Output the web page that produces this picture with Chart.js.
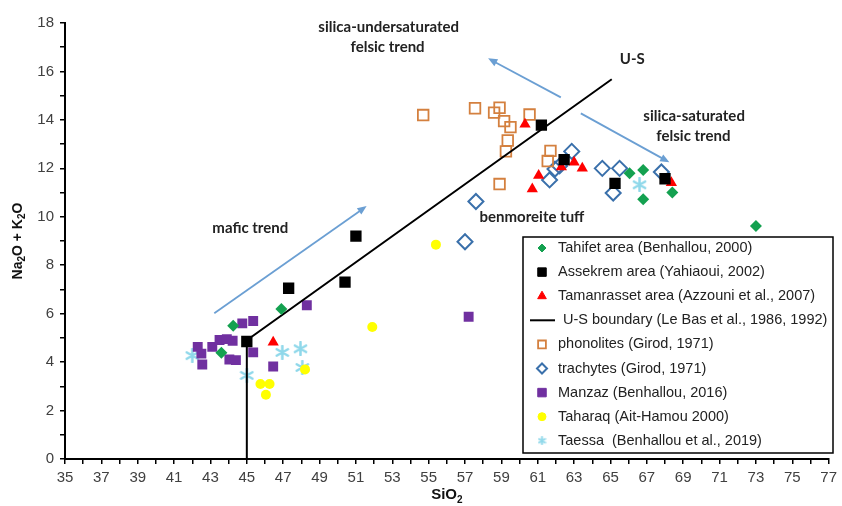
<!DOCTYPE html>
<html>
<head>
<meta charset="utf-8">
<script src="https://cdn.jsdelivr.net/npm/chart.js@4.4.1/dist/chart.umd.min.js"></script>
<style>
  html, body { margin: 0; padding: 0; background: #fff; }
</style>
</head>
<body>
<canvas id="tasChart" width="842" height="506"></canvas>
<script>
// SiO2 (x) and Na2O + K2O (y), wt%
var tahifetSi  = [46.9, 44.25, 43.6, 66.05, 66.8, 66.8, 68.4, 73.0];
var tahifetAlk = [6.19, 5.5, 4.39, 11.8, 11.93, 10.72, 11.0, 9.62];

var assekremSi  = [45.0, 47.3, 50.4, 51.0, 61.2, 62.45, 65.25, 68.0];
var assekremAlk = [4.85, 7.05, 7.3, 9.2, 13.78, 12.36, 11.38, 11.57];

var tamanSi  = [46.45, 60.3, 60.7, 61.05, 62.3, 63.0, 63.45, 68.35];
var tamanAlk = [4.82, 13.82, 11.15, 11.7, 12.05, 12.25, 12.0, 11.4];

var usSi  = [45, 45, 65.07];
var usAlk = [0, 4.9, 15.68];

var phonoSi  = [54.7, 57.55, 58.6, 58.9, 59.15, 59.5, 60.55, 59.35, 59.25, 61.7, 61.55, 58.9];
var phonoAlk = [14.2, 14.48, 14.3, 14.5, 13.95, 13.7, 14.22, 13.15, 12.7, 12.72, 12.3, 11.35];

var trachySi  = [57.0, 57.6, 61.65, 61.95, 62.2, 62.87, 64.55, 65.5, 65.15, 67.8];
var trachyAlk = [8.97, 10.63, 11.52, 11.97, 12.1, 12.7, 12.0, 12.0, 10.98, 11.85];

var manzazSi  = [42.3, 42.5, 42.55, 43.1, 43.5, 43.9, 44.22, 44.04, 44.4, 44.75, 45.35, 45.35, 46.45, 48.3, 57.2];
var manzazAlk = [4.63, 4.35, 3.9, 4.63, 4.91, 4.95, 4.88, 4.11, 4.08, 5.6, 5.7, 4.4, 3.82, 6.35, 5.87];

var taharaqSi  = [45.75, 46.25, 46.05, 48.2, 51.9, 55.4];
var taharaqAlk = [3.1, 3.1, 2.65, 3.7, 5.45, 8.85];

var taessaSi  = [42.0, 45.0, 46.95, 47.95, 48.05, 66.6];
var taessaAlk = [4.27, 3.45, 4.4, 4.55, 3.78, 11.32];

var xTicks = [35, 37, 39, 41, 43, 45, 47, 49, 51, 53, 55, 57, 59, 61, 63, 65, 67, 69, 71, 73, 75, 77];
var yTicks = [0, 2, 4, 6, 8, 10, 12, 14, 16, 18];

function pts(xs, ys) {
  return xs.map(function (x, i) { return { x: x, y: ys[i] }; });
}

// asterisk marker (X with a vertical bar), like the Excel one
function asterisk(size, lw) {
  var c = document.createElement('canvas');
  c.width = size; c.height = size;
  var g = c.getContext('2d');
  var m = size / 2, r = size / 2 - 1;
  g.strokeStyle = '#8fd8ea';
  g.lineWidth = lw;
  g.lineCap = 'round';
  g.beginPath();
  g.moveTo(m, m - r); g.lineTo(m, m + r);
  g.moveTo(m - r * 0.87, m - r * 0.5); g.lineTo(m + r * 0.87, m + r * 0.5);
  g.moveTo(m - r * 0.87, m + r * 0.5); g.lineTo(m + r * 0.87, m - r * 0.5);
  g.stroke();
  return c;
}

var arrows = [
  [43.21, 6.02, 51.59, 10.44],
  [62.27, 14.93, 58.27, 16.54],
  [63.37, 14.27, 68.24, 12.25]
];
var notes = [
  ['silica-undersaturated', 52.8, 17.82],
  ['felsic trend', 52.74, 17.0],
  ['U-S', 66.2, 16.5],
  ['silica-saturated', 69.6, 14.15],
  ['felsic trend', 69.56, 13.33],
  ['mafic trend', 45.19, 9.53],
  ['benmoreite tuff', 60.68, 9.98]
];

// text with subscript parts, centred on (cx, cy)
function subText(ctx, parts, cx, cy, size) {
  var big = 'bold ' + size + 'px "Liberation Sans", Arial, sans-serif';
  var small = 'bold ' + Math.round(size * 0.68) + 'px "Liberation Sans", Arial, sans-serif';
  var w = 0;
  parts.forEach(function (p) { ctx.font = p[1] ? small : big; w += ctx.measureText(p[0]).width; });
  var x = cx - w / 2;
  ctx.textAlign = 'left';
  ctx.textBaseline = 'middle';
  parts.forEach(function (p) {
    ctx.font = p[1] ? small : big;
    ctx.fillText(p[0], x, p[1] ? cy + size * 0.32 : cy);
    x += ctx.measureText(p[0]).width;
  });
}

var notesPlugin = {
  id: 'notes',
  afterDatasetsDraw: function (chart) {
    var ctx = chart.ctx, xs = chart.scales.x, ys = chart.scales.y;
    ctx.save();
    ctx.strokeStyle = '#6b9fd3';
    ctx.fillStyle = '#6b9fd3';
    ctx.lineWidth = 1.8;
    arrows.forEach(function (a) {
      var x1 = xs.getPixelForValue(a[0]), y1 = ys.getPixelForValue(a[1]);
      var x2 = xs.getPixelForValue(a[2]), y2 = ys.getPixelForValue(a[3]);
      var ang = Math.atan2(y2 - y1, x2 - x1);
      ctx.beginPath();
      ctx.moveTo(x1, y1);
      ctx.lineTo(x2 - 7 * Math.cos(ang), y2 - 7 * Math.sin(ang));
      ctx.stroke();
      ctx.beginPath();
      ctx.moveTo(x2, y2);
      ctx.lineTo(x2 - 10 * Math.cos(ang - 0.4), y2 - 10 * Math.sin(ang - 0.4));
      ctx.lineTo(x2 - 10 * Math.cos(ang + 0.4), y2 - 10 * Math.sin(ang + 0.4));
      ctx.closePath();
      ctx.fill();
    });
    ctx.fillStyle = '#222';
    ctx.font = 'bold 15px Lato, "Open Sans", sans-serif';
    ctx.textAlign = 'center';
    ctx.textBaseline = 'middle';
    notes.forEach(function (n) {
      ctx.fillText(n[0], xs.getPixelForValue(n[1]), ys.getPixelForValue(n[2]));
    });

    // axis titles
    ctx.fillStyle = '#111';
    subText(ctx, [['SiO', 0], ['2', 1]], (chart.chartArea.left + chart.chartArea.right) / 2, 495, 15);
    ctx.save();
    ctx.translate(18, (chart.chartArea.top + chart.chartArea.bottom) / 2);
    ctx.rotate(-Math.PI / 2);
    subText(ctx, [['Na', 0], ['2', 1], ['O + K', 0], ['2', 1], ['O', 0]], 0, 0, 14);
    ctx.restore();
    ctx.restore();
  }
};

var legendPlugin = {
  id: 'boxLegend',
  afterDraw: function (chart) {
    var ctx = chart.ctx;
    var L = 523, T = 237, R = 833, B = 453;
    ctx.save();
    ctx.fillStyle = '#fff';
    ctx.fillRect(L, T, R - L, B - T);
    ctx.strokeStyle = '#000';
    ctx.lineWidth = 1.5;
    ctx.strokeRect(L, T, R - L, B - T);
    ctx.font = '14.5px "Liberation Sans", Arial, sans-serif';
    ctx.textBaseline = 'middle';
    ctx.textAlign = 'left';
    chart.data.datasets.forEach(function (ds, i) {
      var y = 248 + i * 24.1;
      if (ds.showLine) {
        ctx.strokeStyle = ds.borderColor;
        ctx.lineWidth = 2;
        ctx.beginPath();
        ctx.moveTo(530, y); ctx.lineTo(555, y);
        ctx.stroke();
        ctx.fillStyle = '#222';
        ctx.fillText(ds.label, 563, y);
        return;
      }
      ctx.fillStyle = ds.backgroundColor;
      ctx.strokeStyle = ds.borderColor;
      ctx.lineWidth = ds.pointBorderWidth || 1;
      Chart.helpers.drawPoint(ctx, {
        pointStyle: ds.legendStyle || ds.pointStyle,
        radius: ds.legendRadius,
        rotation: 0,
        borderWidth: ds.pointBorderWidth || 1
      }, 542, y);
      ctx.fillStyle = '#222';
      ctx.fillText(ds.label, 558, y);
    });
    ctx.restore();
  }
};

var tickFont = { family: '"Liberation Sans", Arial, sans-serif', size: 15 };

new Chart(document.getElementById('tasChart'), {
  type: 'scatter',
  data: {
    datasets: [
      { label: 'Tahifet area (Benhallou, 2000)', data: pts(tahifetSi, tahifetAlk),
        pointStyle: 'rectRot', pointRadius: 6, backgroundColor: '#14a150', borderColor: '#14a150',
        pointBorderWidth: 0, legendRadius: 4 },
      { label: 'Assekrem area (Yahiaoui, 2002)', data: pts(assekremSi, assekremAlk),
        pointStyle: 'rect', pointRadius: 8, backgroundColor: '#000', borderColor: '#000',
        pointBorderWidth: 0, legendRadius: 6 },
      { label: 'Tamanrasset area (Azzouni et al., 2007)', data: pts(tamanSi, tamanAlk),
        pointStyle: 'triangle', pointRadius: 6.5, backgroundColor: '#f00', borderColor: '#f00',
        pointBorderWidth: 0, legendRadius: 5 },
      { label: 'U-S boundary (Le Bas et al., 1986, 1992)', data: pts(usSi, usAlk),
        showLine: true, pointRadius: 0, borderColor: '#000', backgroundColor: '#000',
        borderWidth: 2, fill: false },
      { label: 'phonolites (Girod, 1971)', data: pts(phonoSi, phonoAlk),
        pointStyle: 'rect', pointRadius: 7.5, backgroundColor: 'rgba(0,0,0,0)', borderColor: '#d4803f',
        pointBorderWidth: 1.8, legendRadius: 5.5 },
      { label: 'trachytes (Girod, 1971)', data: pts(trachySi, trachyAlk),
        pointStyle: 'rectRot', pointRadius: 7.5, backgroundColor: 'rgba(0,0,0,0)', borderColor: '#3a70ab',
        pointBorderWidth: 2, legendRadius: 5 },
      { label: 'Manzaz (Benhallou, 2016)', data: pts(manzazSi, manzazAlk),
        pointStyle: 'rect', pointRadius: 7, backgroundColor: '#7030a0', borderColor: '#7030a0',
        pointBorderWidth: 0, legendRadius: 6 },
      { label: 'Taharaq (Ait-Hamou 2000)', data: pts(taharaqSi, taharaqAlk),
        pointStyle: 'circle', pointRadius: 5, backgroundColor: '#ffff00', borderColor: '#ffff00',
        pointBorderWidth: 0, legendRadius: 4 },
      { label: 'Taessa  (Benhallou et al., 2019)', data: pts(taessaSi, taessaAlk),
        pointStyle: asterisk(15, 2.5), backgroundColor: '#8fd8ea', borderColor: '#8fd8ea',
        legendStyle: asterisk(9, 2), legendRadius: 4 }
    ]
  },
  options: {
    responsive: false,
    animation: false,
    layout: { padding: { left: 0, right: 2, top: 23, bottom: 0 } },
    plugins: { legend: { display: false }, tooltip: { enabled: false } },
    scales: {
      x: {
        type: 'linear', min: 35, max: 77,
        afterFit: function (s) { s.height = 47; },
        border: { color: '#000', width: 2 },
        grid: { drawOnChartArea: false, drawTicks: true, tickLength: 5, color: '#000', lineWidth: 1.5 },
        ticks: {
          stepSize: 1, autoSkip: false, maxRotation: 0, padding: 5, color: '#404040', font: tickFont,
          callback: function (v) { return xTicks.indexOf(v) >= 0 ? String(v) : ''; }
        },
        title: { display: false }
      },
      y: {
        type: 'linear', min: 0, max: 18,
        afterFit: function (s) { s.width = 65; },
        border: { color: '#000', width: 2 },
        grid: { drawOnChartArea: false, drawTicks: true, tickLength: 5, color: '#000', lineWidth: 1.5 },
        ticks: {
          stepSize: 1, autoSkip: false, padding: 6, color: '#404040', font: tickFont,
          callback: function (v) { return yTicks.indexOf(v) >= 0 ? String(v) : ''; }
        },
        title: { display: false }
      }
    }
  },
  plugins: [notesPlugin, legendPlugin]
});
</script>
</body>
</html>
